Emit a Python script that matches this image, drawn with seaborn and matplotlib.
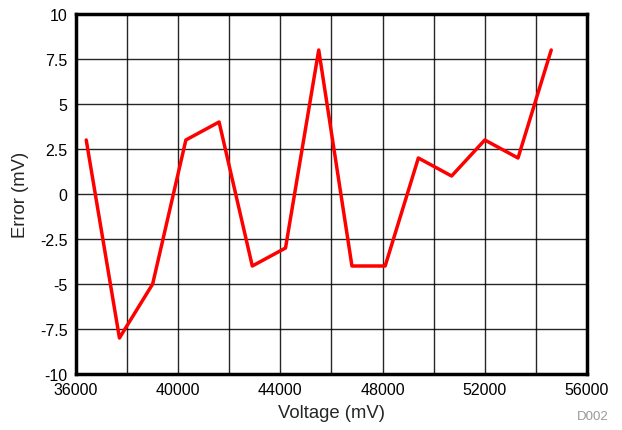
import numpy as np
import pandas as pd
import seaborn as sns
from matplotlib import pyplot as plt
from matplotlib.ticker import MultipleLocator, FixedLocator, FixedFormatter

# data
voltage_mv = [36400, 37700, 39000, 40300, 41600, 42900, 44200, 45500,
              46800, 48100, 49400, 50700, 52000, 53300, 54600]
error_mv = [3, -8, -5, 3, 4, -4, -3, 8, -4, -4, 2, 1, 3, 2, 8]

y_ticks = [-10, -7.5, -5, -2.5, 0, 2.5, 5, 7.5, 10]
y_tick_labels = ["-10", "-7.5", "-5", "-2.5", "0", "2.5", "5", "7.5", "10"]

df = pd.DataFrame({"Voltage": voltage_mv, "Error": error_mv})

sns.set_style("white")
plt.rcParams['font.family'] = ['Liberation Sans', 'DejaVu Sans']

fig = plt.figure(figsize=(6.22, 4.31), dpi=100)
ax = fig.add_axes([76 / 622, 56 / 431, 511 / 622, 360 / 431])

sns.lineplot(data=df, x="Voltage", y="Error", color="#ff0000", linewidth=2.5, ax=ax, zorder=3)

ax.set_xlim(36000, 56000)
ax.set_ylim(-10, 10)
ax.xaxis.set_major_locator(MultipleLocator(4000))
ax.xaxis.set_minor_locator(MultipleLocator(2000))
ax.yaxis.set_major_locator(FixedLocator(y_ticks))
ax.yaxis.set_major_formatter(FixedFormatter(y_tick_labels))

ax.grid(which="both", color="black", linewidth=1.0, alpha=0.85)
ax.tick_params(which="both", length=0, labelsize=11.5, colors="black", pad=6)

for s in ax.spines.values():
    s.set_visible(True)
    s.set_color("black")
    s.set_linewidth(2.5)

ax.set_xlabel("Voltage (mV)", fontsize=13.3, labelpad=5)
ax.set_ylabel("Error (mV)", fontsize=13.3, labelpad=8)

fig.text(609 / 622, 8 / 431, "D002", color="#999999", fontsize=9.5, ha="right", va="bottom")

plt.savefig("out.png", dpi=100)
